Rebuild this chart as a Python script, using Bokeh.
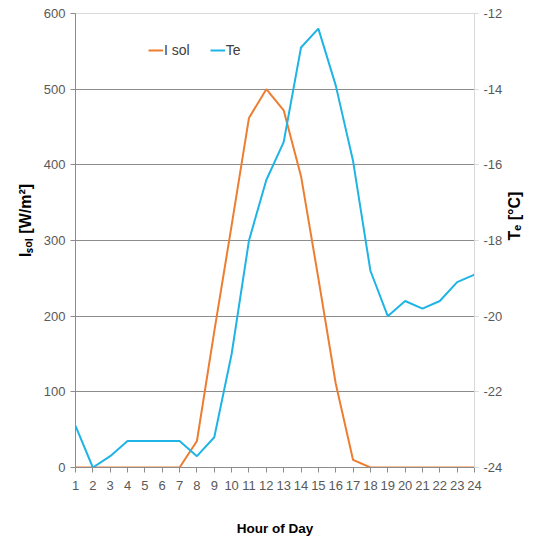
import math
from bokeh.plotting import figure
from bokeh.models import Range1d, LinearAxis, FixedTicker, Legend, LegendItem, PrintfTickFormatter
from bokeh.embed import file_html
from bokeh.resources import INLINE

hours = list(range(1, 25))
i_sol = [0, 0, 0, 0, 0, 0, 0, 35, 180, 320, 462, 500, 472, 385, 250, 111, 10, 0, 0, 0, 0, 0, 0, 0]
t_e = [-22.9, -24.0, -23.7, -23.3, -23.3, -23.3, -23.3, -23.7, -23.2, -21.0, -18.0, -16.4,
       -15.4, -12.9, -12.4, -13.9, -15.9, -18.8, -20.0, -19.6, -19.8, -19.6, -19.1, -18.9]
left_ticks = [0, 100, 200, 300, 400, 500, 600]
right_ticks = [-24, -22, -20, -18, -16, -14, -12]

FONT = "Liberation Sans"
ORANGE = "#ED7D31"
CYAN = "#1FB4E6"

p = figure(width=535, height=544, output_backend="svg", toolbar_location=None,
           x_range=Range1d(1, 24), y_range=Range1d(0, 600),
           min_border_left=75, min_border_right=61, min_border_top=13, min_border_bottom=77)
p.extra_y_ranges = {"te": Range1d(-24, -12)}

p.outline_line_color = "#d9d9d9"
p.background_fill_color = "white"
p.xgrid.visible = False
p.ygrid.ticker = FixedTicker(ticks=left_ticks[1:-1])
p.ygrid.grid_line_color = "#8c8c8c"
p.ygrid.grid_line_width = 1

# x axis
xa = p.xaxis[0]
xa.ticker = FixedTicker(ticks=hours)
xa.axis_line_color = "#8c8c8c"
xa.major_tick_line_color = "#8c8c8c"
xa.major_tick_out = 5
xa.major_tick_in = 0
xa.minor_tick_line_color = None
xa.major_label_text_font = FONT
xa.major_label_text_font_size = "13px"
xa.major_label_text_color = "#595959"
xa.major_label_standoff = 8
xa.axis_label = "Hour of Day"
xa.axis_label_text_font = FONT
xa.axis_label_text_font_size = "13.5px"
xa.axis_label_text_font_style = "bold"
xa.axis_label_text_color = "black"
xa.axis_label_standoff = 28

# left axis
ya = p.yaxis[0]
ya.ticker = FixedTicker(ticks=left_ticks)
ya.axis_line_color = "#8c8c8c"
ya.major_tick_line_color = "#8c8c8c"
ya.major_tick_out = 5
ya.major_tick_in = 0
ya.minor_tick_line_color = None
ya.major_label_text_font = FONT
ya.major_label_text_font_size = "13px"
ya.major_label_text_color = "#595959"
ya.major_label_standoff = 5
ya.axis_label = "\u00a0" * 9 + "I\u209b\u2092\u2097 [W/m\u00b2]"
ya.axis_label_text_font = FONT
ya.axis_label_text_font_size = "16px"
ya.axis_label_text_font_style = "bold"
ya.axis_label_text_color = "black"
ya.axis_label_standoff = 7

# right axis
ra = LinearAxis(y_range_name="te", ticker=FixedTicker(ticks=right_ticks),
                formatter=PrintfTickFormatter(format="%d"))
ra.axis_line_color = "#d9d9d9"
ra.major_tick_line_color = "#d9d9d9"
ra.major_tick_out = 4
ra.major_tick_in = 0
ra.minor_tick_line_color = None
ra.major_label_text_font = FONT
ra.major_label_text_font_size = "13px"
ra.major_label_text_color = "#595959"
ra.major_label_standoff = 5
ra.axis_label = "T\u2091 [\u00b0C]"
ra.axis_label_text_font = FONT
ra.axis_label_text_font_size = "16px"
ra.axis_label_text_font_style = "bold"
ra.axis_label_text_color = "black"
ra.axis_label_standoff = 9
ra.axis_label_orientation = math.pi / 2
p.add_layout(ra, "right")

r1 = p.line(hours, i_sol, line_color=ORANGE, line_width=2)
r2 = p.line(hours, t_e, y_range_name="te", line_color=CYAN, line_width=2)

legend = Legend(items=[LegendItem(label="I sol", renderers=[r1]),
                       LegendItem(label="Te", renderers=[r2])],
                orientation="horizontal", location=(73, 407))
legend.border_line_color = None
legend.background_fill_alpha = 0
legend.label_text_font = FONT
legend.label_text_font_size = "14px"
legend.label_text_color = "#404040"
legend.glyph_width = 15
legend.glyph_height = 20
legend.label_standoff = 1
legend.spacing = 20
legend.padding = 0
legend.margin = 0
p.add_layout(legend, "center")

open("out.html", "w").write(file_html(p, INLINE))
